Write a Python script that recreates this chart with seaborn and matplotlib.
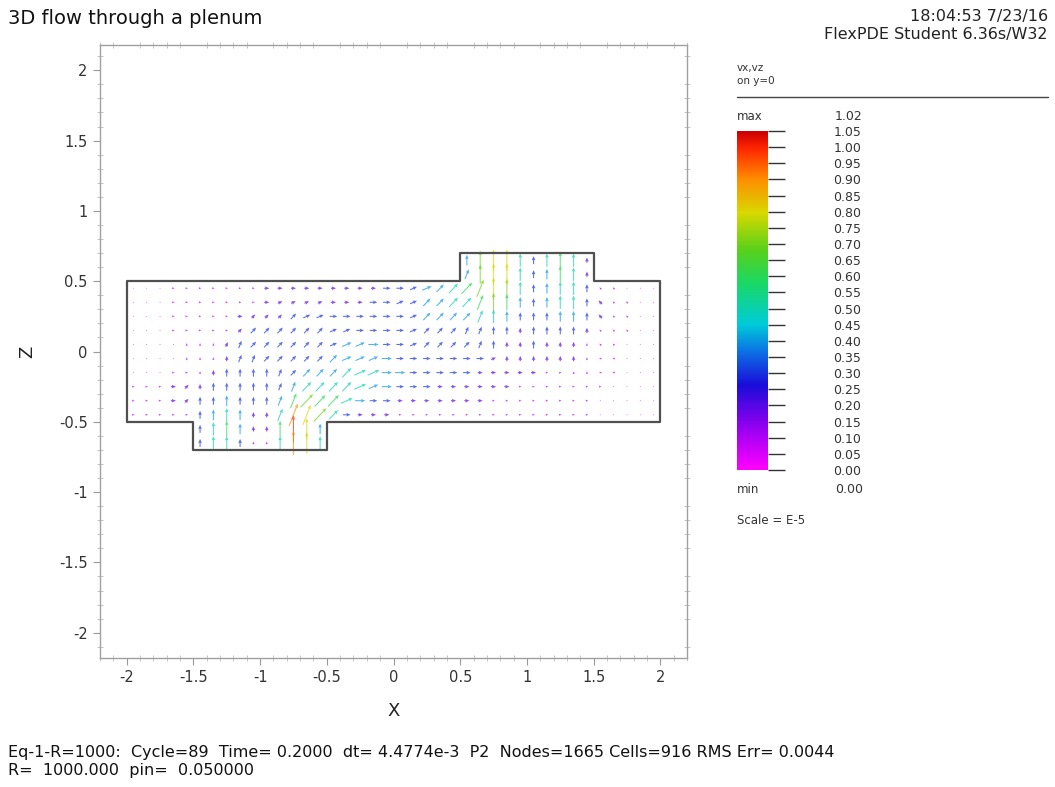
import numpy as np
import pandas as pd
import matplotlib
matplotlib.use("Agg")
import matplotlib.pyplot as plt
import seaborn as sns
from matplotlib.colors import LinearSegmentedColormap, Normalize
from matplotlib.ticker import MultipleLocator, FuncFormatter
from matplotlib.lines import Line2D

# ---------------- data ----------------
# grid columns (x) for the main channel, rows (z) top to bottom
main_x = np.round(np.arange(-1.95, 2.0, 0.1), 2)
main_z = [0.45, 0.35, 0.25, 0.15, 0.05, -0.05, -0.15, -0.25, -0.35, -0.45]
inlet_x = np.round(np.arange(-1.45, -0.5, 0.1), 2)
inlet_z = [-0.55, -0.65]
outlet_x = np.round(np.arange(0.55, 1.5, 0.1), 2)
outlet_z = [0.55, 0.65]

# speed code per cell: hex digit / 10  (units of 1e-5)
main_speed = [
    "00011" "1111122222" "2222333445" "67875" "34553" "11000",
    "00011" "1111122222" "2223333445" "56764" "34553" "21100",
    "00011" "1112222333" "3333333444" "45543" "33443" "21100",
    "00011" "1112333333" "3333333333" "33332" "33332" "11100",
    "00001" "1123333333" "3444333333" "33322" "32221" "11000",
    "00001" "1123333333" "4444433333" "33222" "22221" "11000",
    "00011" "1233333344" "4555443333" "32222" "21111" "11000",
    "11122" "2333333455" "5554433322" "22221" "11111" "10000",
    "11122" "3343334676" "6543322222" "22111" "11111" "00000",
    "11111" "3454225987" "5322211111" "11111" "11111" "00000",
]
# direction code per cell (keypad style: 6=E 9=NE 8=N 7=NW 4=W; a=ENE b=NNE)
main_dir = [
    "66666" "6666666666" "666666aa99" "9b888" "88888" "77444",
    "66666" "666666aaaa" "66666aa999" "9b888" "88888" "77744",
    "66666" "66669999aa" "666666a999" "9b888" "88888" "77744",
    "66666" "6669999999" "aa6666a999" "bb888" "88888" "77744",
    "88888" "88bb999999" "aaa666a999" "9b888" "88888" "77444",
    "88888" "888bb99999" "9aaa666666" "66a88" "88888" "44444",
    "66666" "888888b999" "99aa666666" "66666" "66a88" "44444",
    "66669" "888888bb99" "99aa666666" "66666" "66666" "66666",
    "66669" "888888bb99" "9a66666666" "66666" "66666" "66666",
    "66666" "888888bbb9" "9666666666" "66666" "66666" "66666",
]
inlet_speed = ["3564226a84", "3553115985"]
inlet_dir = ["8888888888", "8888888888"]
outlet_speed = ["4788534652", "4788535652"]
outlet_dir = ["b888888888", "8888888888"]

# domain boundary
outline_x = [-2.0, -1.5, -1.5, -0.5, -0.5, 2.0, 2.0, 1.5, 1.5, 0.5, 0.5, -2.0, -2.0]
outline_z = [-0.5, -0.5, -0.7, -0.7, -0.5, -0.5, 0.5, 0.5, 0.7, 0.7, 0.5, 0.5, -0.5]

cbar_ticks = [round(0.05 * k, 2) for k in range(22)]
x_ticks = [-2, -1.5, -1, -0.5, 0, 0.5, 1, 1.5, 2]
z_ticks = [-2, -1.5, -1, -0.5, 0, 0.5, 1, 1.5, 2]

angle_of = {"6": 0, "a": 22.5, "9": 45, "b": 67.5, "8": 90, "c": 112.5,
            "7": 135, "4": 180, "1": 225, "2": 270, "3": 315}

rows = []
def add_block(xs, zs, speeds, dirs):
    for z, srow, drow in zip(zs, speeds, dirs):
        for x, sc, dc in zip(xs, srow, drow):
            s = int(sc, 16) / 10.0
            a = np.deg2rad(angle_of[dc])
            rows.append((x, z, s, s * np.cos(a), s * np.sin(a)))

add_block(main_x, main_z, main_speed, main_dir)
add_block(inlet_x, inlet_z, inlet_speed, inlet_dir)
add_block(outlet_x, outlet_z, outlet_speed, outlet_dir)
df = pd.DataFrame(rows, columns=["x", "z", "speed", "u", "w"])

# ---------------- style ----------------
sns.set_theme(style="white")
plt.rcParams["font.family"] = ["DejaVu Sans"]
plt.rcParams["axes.unicode_minus"] = False

cmap = LinearSegmentedColormap.from_list("flex", [
    (0.00, (1.0, 0.0, 1.0)),
    (0.12, (0.60, 0.0, 0.95)),
    (0.25, (0.10, 0.05, 0.85)),
    (0.35, (0.05, 0.45, 0.90)),
    (0.43, (0.0, 0.80, 0.85)),
    (0.55, (0.10, 0.85, 0.40)),
    (0.65, (0.35, 0.82, 0.10)),
    (0.76, (0.85, 0.85, 0.0)),
    (0.86, (1.0, 0.55, 0.0)),
    (0.95, (1.0, 0.15, 0.0)),
    (1.00, (0.80, 0.0, 0.0)),
])
norm = Normalize(vmin=0.0, vmax=1.05)

W, H = 1055, 787
fig = plt.figure(figsize=(W / 100, H / 100), dpi=100)
ax = fig.add_axes([100 / W, 1 - 658 / H, 587 / W, 613 / H])

ax.quiver(df["x"], df["z"], df["u"], df["w"], df["speed"], cmap=cmap, norm=norm,
          angles="xy", scale_units="xy", scale=1 / 0.19, pivot="middle",
          width=0.0018, headwidth=3.5, headlength=4, headaxislength=3.5,
          alpha=0.7, zorder=2)

sns.lineplot(x=outline_x, y=outline_z, sort=False, estimator=None, ax=ax,
             color="#505050", linewidth=1.6, legend=False, zorder=3)

ax.set_xlim(-2.2, 2.2)
ax.set_ylim(-2.18, 2.18)
ax.set_xticks(x_ticks)
ax.set_yticks(z_ticks)
fmt = FuncFormatter(lambda v, p: "%g" % v)
ax.xaxis.set_major_formatter(fmt)
ax.yaxis.set_major_formatter(fmt)
ax.xaxis.set_minor_locator(MultipleLocator(0.1))
ax.yaxis.set_minor_locator(MultipleLocator(0.1))
ax.tick_params(which="major", direction="out", length=5, width=0.8, color="#999999",
               labelsize=10.5, labelcolor="#333333", pad=4,
               bottom=True, left=True, top=False, right=False)
ax.tick_params(which="minor", direction="inout", length=4, width=0.6, color="#bbbbbb",
               bottom=True, left=True, top=True, right=True)
for sp in ax.spines.values():
    sp.set_color("#a0a0a0")
    sp.set_linewidth(1.0)
ax.set_xlabel("X", fontsize=13, color="#222222", labelpad=12)
ax.set_ylabel("Z", fontsize=13, color="#222222", labelpad=16)

# ---------------- colour legend ----------------
cax = fig.add_axes([737 / W, 1 - 470 / H, 31 / W, 339 / H])
grad = np.linspace(0, 1.05, 256).reshape(-1, 1)
cax.imshow(grad, cmap=cmap, norm=norm, aspect="auto", origin="lower",
           extent=[0, 1, 0, 1.05])
cax.set_xlim(0, 1)
cax.set_ylim(0, 1.05)
cax.set_xticks([])
cax.yaxis.tick_right()
cax.set_yticks(cbar_ticks)
cax.set_yticklabels(["%.2f" % t for t in cbar_ticks])
cax.tick_params(axis="y", direction="out", length=12, width=1.0, color="#333333",
                labelsize=9, labelcolor="#333333", pad=35)
for sp in cax.spines.values():
    sp.set_visible(False)

fig.text(737 / W, 1 - 117 / H, "max", fontsize=8.5, color="#333333", va="center")
fig.text(835 / W, 1 - 117 / H, "1.02", fontsize=9, color="#333333", va="center")
fig.text(737 / W, 1 - 490 / H, "min", fontsize=8.5, color="#333333", va="center")
fig.text(835 / W, 1 - 490 / H, "0.00", fontsize=9, color="#333333", va="center")
fig.text(737 / W, 1 - 520 / H, "Scale = E-5", fontsize=8.5, color="#333333", va="center")
fig.text(737 / W, 1 - 68 / H, "vx,vz", fontsize=7.5, color="#333333", va="center")
fig.text(737 / W, 1 - 81 / H, "on y=0", fontsize=7.5, color="#333333", va="center")
fig.add_artist(Line2D([737 / W, 1048 / W], [1 - 97 / H, 1 - 97 / H],
                      transform=fig.transFigure, color="#444444", linewidth=1.0))

# ---------------- header / footer ----------------
fig.text(8 / W, 1 - 18 / H, "3D flow through a plenum", fontsize=14,
         color="#111111", va="center", ha="left")
fig.text(1048 / W, 1 - 17 / H, "18:04:53 7/23/16", fontsize=11.5,
         color="#222222", va="center", ha="right")
fig.text(1048 / W, 1 - 35 / H, "FlexPDE Student 6.36s/W32", fontsize=11.5,
         color="#222222", va="center", ha="right")
fig.text(8 / W, 1 - 752 / H,
         "Eq-1-R=1000:  Cycle=89  Time= 0.2000  dt= 4.4774e-3  P2  Nodes=1665 Cells=916 RMS Err= 0.0044",
         fontsize=11.5, color="#111111", va="center", ha="left")
fig.text(8 / W, 1 - 771 / H, "R=  1000.000  pin=  0.050000",
         fontsize=11.5, color="#111111", va="center", ha="left")

fig.savefig("out.png", dpi=100)
